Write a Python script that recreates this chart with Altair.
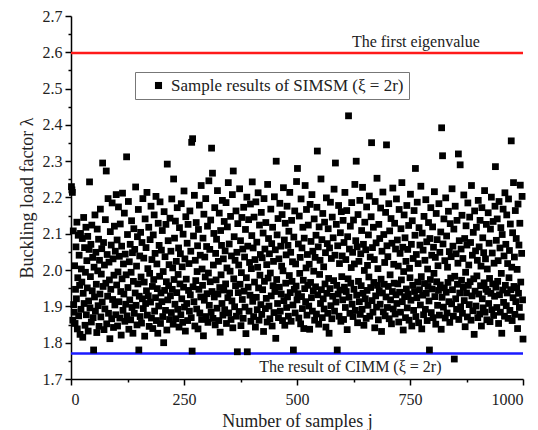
import altair as alt
import pandas as pd

# Buckling load factor of each sample j (j = 1..1000)
lam = [
    2.230, 2.221, 2.214, 1.862, 2.108, 1.905, 1.884, 2.012, 1.853, 1.947, 2.064, 1.921, 2.132, 1.838, 1.979, 2.096, 1.874, 2.041, 1.958, 1.823,
    2.101, 1.892, 2.003, 1.967, 2.087, 1.815, 1.936, 2.145, 1.908, 2.062, 1.848, 1.994, 2.118, 1.877, 2.026, 1.951, 2.093, 1.832, 1.915, 2.057,
    2.243, 1.896, 1.982, 2.071, 1.857, 2.124, 1.943, 2.035, 1.869, 1.780, 2.008, 1.926, 2.152, 1.887, 2.049, 1.961, 1.828, 2.113, 1.998, 1.902,
    2.085, 1.845, 2.027, 1.934, 2.168, 1.871, 1.989, 2.059, 1.912, 2.295, 1.955, 2.076, 1.836, 2.014, 1.893, 2.139, 1.964, 2.273, 1.852, 2.043,
    1.928, 2.197, 1.881, 2.022, 1.973, 1.811, 2.106, 1.947, 2.069, 1.866, 2.185, 1.919, 2.031, 1.842, 1.986, 2.121, 1.904, 2.052, 1.877, 2.208,
    1.959, 2.083, 1.846, 1.995, 2.174, 1.913, 2.038, 1.868, 2.127, 1.941, 1.821, 2.066, 1.976, 2.212, 1.889, 2.017, 1.934, 2.157, 1.859, 2.044,
    1.906, 1.987, 2.312, 1.874, 2.098, 1.952, 2.189, 1.837, 2.023, 1.918, 2.071, 1.863, 1.994, 2.136, 1.897, 2.048, 1.826, 1.969, 2.114, 1.881,
    2.057, 1.937, 2.229, 1.903, 2.011, 1.849, 2.092, 1.962, 2.167, 1.780, 1.928, 2.039, 1.872, 2.104, 1.981, 1.854, 2.076, 1.921, 2.197, 1.894,
    2.033, 1.967, 1.818, 2.141, 1.908, 2.062, 1.943, 2.214, 1.876, 2.004, 1.929, 2.118, 1.845, 1.991, 2.084, 1.912, 2.176, 1.868, 2.029, 1.955,
    1.839, 2.097, 1.974, 2.152, 1.887, 2.046, 1.924, 2.203, 1.861, 2.017, 1.949, 1.826, 2.129, 1.901, 2.068, 1.983, 2.188, 1.853, 1.937, 2.055,
    1.913, 2.109, 1.872, 1.996, 1.800, 2.161, 1.944, 2.037, 1.889, 2.126, 1.968, 1.835, 2.292, 1.918, 2.081, 1.957, 2.015, 1.864, 2.143, 1.929,
    2.052, 1.883, 2.196, 1.947, 2.006, 1.851, 2.251, 1.974, 2.088, 1.906, 2.135, 1.866, 2.024, 1.938, 2.172, 1.892, 1.988, 2.061, 1.843, 2.117,
    1.962, 2.045, 1.877, 2.183, 1.921, 2.009, 1.856, 2.099, 1.953, 2.218, 1.898, 2.031, 1.832, 2.147, 1.975, 1.908, 2.074, 1.861, 2.126, 1.944,
    2.018, 1.887, 2.163, 1.932, 2.052, 1.869, 2.352, 1.777, 2.362, 1.954, 2.094, 1.913, 2.206, 1.846, 2.027, 1.971, 2.131, 1.893, 1.996, 2.067,
    1.838, 2.112, 1.947, 2.179, 1.882, 2.041, 1.926, 2.233, 1.864, 2.003, 1.958, 2.088, 1.819, 2.154, 1.917, 2.036, 1.981, 2.197, 1.872, 2.065,
    1.935, 2.121, 1.856, 1.992, 2.246, 1.903, 2.057, 1.968, 2.138, 1.884, 2.336, 1.941, 2.267, 1.867, 2.014, 2.101, 1.926, 2.172, 1.849, 2.046,
    1.973, 2.085, 1.895, 2.219, 1.934, 2.024, 1.861, 2.157, 1.952, 1.829, 2.109, 1.987, 2.068, 1.908, 2.192, 1.876, 2.031, 1.945, 2.134, 1.891,
    2.053, 1.962, 2.186, 1.853, 2.006, 2.119, 1.924, 2.241, 1.882, 2.072, 1.937, 1.997, 2.148, 1.864, 2.039, 1.915, 2.208, 1.841, 2.273, 1.976,
    2.092, 1.899, 2.027, 1.957, 2.163, 1.873, 2.049, 1.775, 2.128, 1.938, 2.014, 1.886, 2.224, 1.961, 2.081, 1.847, 1.993, 2.145, 1.919, 2.058,
    1.867, 2.173, 1.942, 2.036, 1.898, 2.112, 1.825, 1.979, 2.201, 1.775, 2.066, 1.953, 2.139, 1.887, 2.021, 1.931, 2.182, 1.859, 2.004, 2.095,
    2.243, 1.914, 2.061, 1.872, 2.146, 1.967, 2.029, 1.843, 2.188, 1.925, 2.077, 1.891, 2.008, 2.213, 1.951, 1.862, 2.124, 1.986, 2.043, 1.905,
    2.159, 1.878, 2.034, 1.946, 2.102, 1.831, 2.197, 1.969, 2.058, 1.894, 2.131, 1.922, 2.015, 1.857, 2.236, 1.978, 2.087, 1.901, 2.045, 1.866,
    1.992, 2.168, 1.929, 2.073, 1.846, 2.118, 1.957, 2.024, 1.883, 2.202, 1.941, 2.056, 1.812, 2.300, 1.974, 2.097, 1.908, 2.142, 1.869, 2.031,
    1.953, 2.184, 1.887, 2.066, 1.934, 2.011, 2.153, 1.861, 1.998, 2.227, 1.916, 2.083, 1.848, 2.129, 1.964, 2.042, 1.897, 2.176, 1.926, 2.068,
    1.873, 2.107, 1.985, 2.214, 1.938, 2.049, 1.859, 2.137, 1.969, 2.023, 1.904, 1.780, 2.091, 1.947, 2.163, 1.882, 2.017, 1.956, 2.244, 1.918,
    2.280, 1.935, 2.072, 1.868, 2.149, 1.991, 2.035, 1.852, 2.196, 1.927, 2.061, 1.894, 2.118, 1.972, 1.839, 2.088, 1.949, 2.233, 1.913, 2.006,
    2.167, 1.876, 2.043, 1.958, 2.124, 1.901, 2.016, 1.837, 2.181, 1.966, 2.079, 1.924, 2.208, 1.887, 2.052, 1.943, 1.997, 2.141, 1.862, 2.035,
    1.954, 2.096, 1.879, 2.173, 2.328, 1.932, 2.064, 1.851, 2.119, 1.988, 2.027, 1.908, 2.251, 1.946, 2.084, 1.869, 2.156, 1.921, 2.009, 1.893,
    2.132, 1.962, 2.048, 1.843, 2.199, 1.936, 2.073, 1.881, 2.114, 1.977, 1.826, 2.061, 1.949, 2.187, 1.902, 2.032, 1.866, 2.146, 1.928, 2.089,
    1.971, 2.223, 1.887, 2.041, 2.295, 1.912, 2.126, 1.958, 1.780, 2.067, 1.934, 2.178, 1.873, 2.018, 1.945, 2.103, 1.859, 2.161, 1.982, 2.039,
    1.918, 2.137, 1.864, 2.076, 1.953, 2.214, 1.897, 2.029, 1.941, 2.164, 1.836, 2.092, 1.976, 2.425, 1.925, 2.058, 1.881, 2.121, 1.964, 2.007,
    2.186, 1.906, 2.049, 1.872, 2.138, 1.947, 2.017, 2.236, 1.889, 2.081, 2.300, 1.931, 2.064, 1.855, 2.153, 1.969, 2.024, 1.913, 2.192, 1.878,
    2.045, 1.957, 2.109, 1.892, 2.228, 1.936, 2.071, 1.848, 1.999, 2.132, 1.921, 2.056, 1.867, 2.174, 1.944, 2.013, 1.903, 2.097, 1.981, 2.204,
    1.873, 2.036, 1.952, 2.147, 2.351, 1.916, 2.062, 1.884, 2.118, 1.966, 2.029, 1.841, 2.189, 1.929, 2.075, 1.898, 2.253, 1.958, 2.004, 1.863,
    2.126, 1.943, 2.087, 1.906, 2.171, 1.975, 1.831, 2.052, 1.937, 2.215, 1.885, 2.098, 1.961, 2.021, 1.874, 2.159, 1.926, 2.345, 2.067, 1.897,
    2.037, 1.955, 2.183, 1.866, 2.108, 1.987, 1.918, 2.142, 1.852, 2.074, 1.941, 2.226, 1.893, 2.016, 1.964, 2.129, 1.879, 2.058, 1.932, 2.196,
    1.908, 2.083, 1.962, 2.011, 1.857, 2.167, 1.939, 2.046, 1.884, 2.114, 1.973, 2.241, 1.913, 2.063, 1.835, 1.996, 2.152, 1.927, 2.089, 1.869,
    2.024, 1.948, 2.178, 1.896, 2.057, 1.934, 2.123, 1.862, 2.005, 1.979, 2.209, 1.917, 2.071, 1.846, 2.136, 1.958, 2.032, 1.889, 2.164, 1.941,
    2.096, 2.280, 1.872, 2.043, 1.924, 2.187, 1.967, 2.018, 1.855, 2.117, 1.946, 2.069, 1.904, 2.231, 1.982, 1.838, 2.102, 1.931, 2.055, 1.877,
    2.148, 1.963, 2.027, 1.892, 2.194, 1.936, 2.078, 1.861, 2.003, 1.955, 2.131, 1.915, 1.780, 2.087, 1.974, 2.172, 1.883, 2.041, 1.948, 2.119,
    1.869, 2.063, 1.991, 2.216, 1.927, 2.035, 1.851, 2.156, 1.968, 2.084, 1.903, 2.012, 1.944, 2.183, 1.876, 2.049, 1.959, 2.105, 1.837, 2.392,
    1.925, 2.315, 2.072, 1.898, 2.141, 1.951, 2.026, 1.868, 2.199, 1.939, 2.094, 1.882, 2.008, 1.966, 2.162, 1.913, 2.051, 1.856, 2.128, 1.978,
    2.037, 1.907, 2.224, 1.946, 2.066, 1.873, 2.113, 1.755, 1.983, 2.176, 1.921, 2.045, 1.892, 2.137, 1.961, 2.019, 2.320, 1.864, 2.081, 1.937,
    2.290, 1.899, 2.058, 1.972, 2.151, 1.881, 2.032, 1.953, 2.207, 1.916, 2.087, 1.844, 1.994, 2.122, 1.937, 2.069, 1.871, 2.185, 1.958, 2.014,
    1.905, 2.146, 1.968, 2.076, 1.862, 2.233, 1.929, 2.041, 1.888, 2.104, 1.976, 1.823, 2.163, 1.942, 2.053, 1.901, 2.118, 1.984, 2.027, 1.869,
    2.192, 1.934, 2.064, 1.879, 2.137, 1.957, 2.011, 1.846, 2.172, 1.921, 2.089, 1.896, 2.048, 1.965, 2.219, 1.884, 2.031, 1.947, 2.126, 1.863,
    2.003, 1.941, 2.158, 1.908, 2.074, 1.977, 1.858, 2.113, 1.936, 2.201, 1.891, 2.047, 1.962, 2.134, 1.875, 2.019, 1.928, 2.176, 2.285, 1.953,
    2.082, 1.897, 2.141, 1.969, 2.026, 1.853, 2.189, 1.932, 2.061, 1.884, 2.117, 1.991, 1.826, 2.098, 1.945, 2.168, 1.911, 2.039, 1.873, 2.213,
    1.958, 2.071, 1.902, 2.152, 1.937, 2.018, 1.867, 2.196, 1.979, 2.054, 1.889, 2.127, 1.946, 2.356, 2.008, 1.861, 2.103, 1.924, 2.241, 1.955,
    2.036, 1.878, 2.164, 1.913, 2.087, 1.951, 2.002, 1.839, 2.182, 1.936, 2.069, 1.897, 2.129, 2.234, 1.967, 1.871, 2.046, 2.203, 1.918, 1.810,
]

first_eigenvalue = 2.598
cimm_result = 1.770
series_label = "Sample results of SIMSM (ξ = 2r)"
x_ticks = [0, 125, 250, 375, 500, 625, 750, 875, 1000]
y_ticks = [1.7, 1.75, 1.8, 1.85, 1.9, 1.95, 2.0, 2.05, 2.1, 2.15, 2.2, 2.25,
           2.3, 2.35, 2.4, 2.45, 2.5, 2.55, 2.6, 2.65, 2.7]

df = pd.DataFrame({"j": list(range(1, len(lam) + 1)), "lam": lam, "series": series_label})
ref_lines = pd.DataFrame({"name": ["first", "cimm"], "lam": [first_eigenvalue, cimm_result]})
notes = pd.DataFrame({
    "j": [763, 618],
    "lam": [2.627, 1.732],
    "text": ["The first eigenvalue", "The result of CIMM (ξ = 2r)"],
})

FONT = "Liberation Serif"
TXT = "#222222"

x_scale = alt.Scale(domain=[0, 1000], nice=False, zero=False)
y_scale = alt.Scale(domain=[1.7, 2.7], nice=False, zero=False)

x_axis = alt.Axis(
    values=x_ticks,
    format="d",
    title="Number of samples j",
    labelOverlap=False,
    labelExpr="datum.value % 250 === 0 ? datum.label : ''",
    tickSize={"condition": {"test": "datum.value % 250 === 0", "value": 6}, "value": 3},
    labelPadding=6,
    titlePadding=5,
)
y_axis = alt.Axis(
    values=y_ticks,
    format=".1f",
    title="Buckling load factor λ",
    labelOverlap=False,
    labelExpr="round(datum.value * 20) % 2 === 0 ? datum.label : ''",
    tickSize={"condition": {"test": "round(datum.value * 20) % 2 === 0", "value": 6}, "value": 3},
    labelPadding=3,
    titlePadding=6,
)

x_enc = alt.X("j:Q", scale=x_scale, axis=x_axis)
y_enc = alt.Y("lam:Q", scale=y_scale, axis=y_axis)

points = alt.Chart(df).mark_square(size=46, opacity=1, filled=True).encode(
    x=x_enc,
    y=y_enc,
    color=alt.Color(
        "series:N",
        scale=alt.Scale(range=["black"]),
        legend=alt.Legend(
            orient="none",
            legendX=64,
            legendY=56,
            title=None,
            strokeColor="#777777",
            fillColor="white",
            padding=5,
            symbolOffset=10,
            symbolType="square",
            symbolSize=50,
            labelFont=FONT,
            labelFontSize=17,
            labelColor=TXT,
            labelLimit=400,
        ),
    ),
)

lines = alt.Chart(ref_lines).mark_rule(strokeWidth=2.5).encode(
    y=y_enc,
    color=alt.Color("name:N", scale=alt.Scale(domain=["first", "cimm"], range=["#ff1a1a", "#1a1aff"]), legend=None),
)

texts = alt.Chart(notes).mark_text(font=FONT, fontSize=16, color=TXT).encode(
    x=x_enc,
    y=y_enc,
    text="text:N",
)

chart = (
    alt.layer(lines, points, texts)
    .resolve_scale(color="independent")
    .properties(
        width=452,
        height=363,
        padding={"left": 63, "top": 8, "right": 7, "bottom": 51},
        autosize=alt.AutoSizeParams(type="none"),
    )
    .configure_view(stroke=None)
    .configure_axis(
        grid=False,
        labelOverlap=False,
        domainColor="black",
        domainWidth=1.5,
        tickColor="black",
        tickWidth=1.5,
        labelFont=FONT,
        labelFontSize=16,
        labelColor=TXT,
        titleFont=FONT,
        titleFontSize=18,
        titleFontWeight="normal",
        titleColor=TXT,
    )
)

chart.save("out.html", embed_options={"renderer": "svg", "actions": False})
